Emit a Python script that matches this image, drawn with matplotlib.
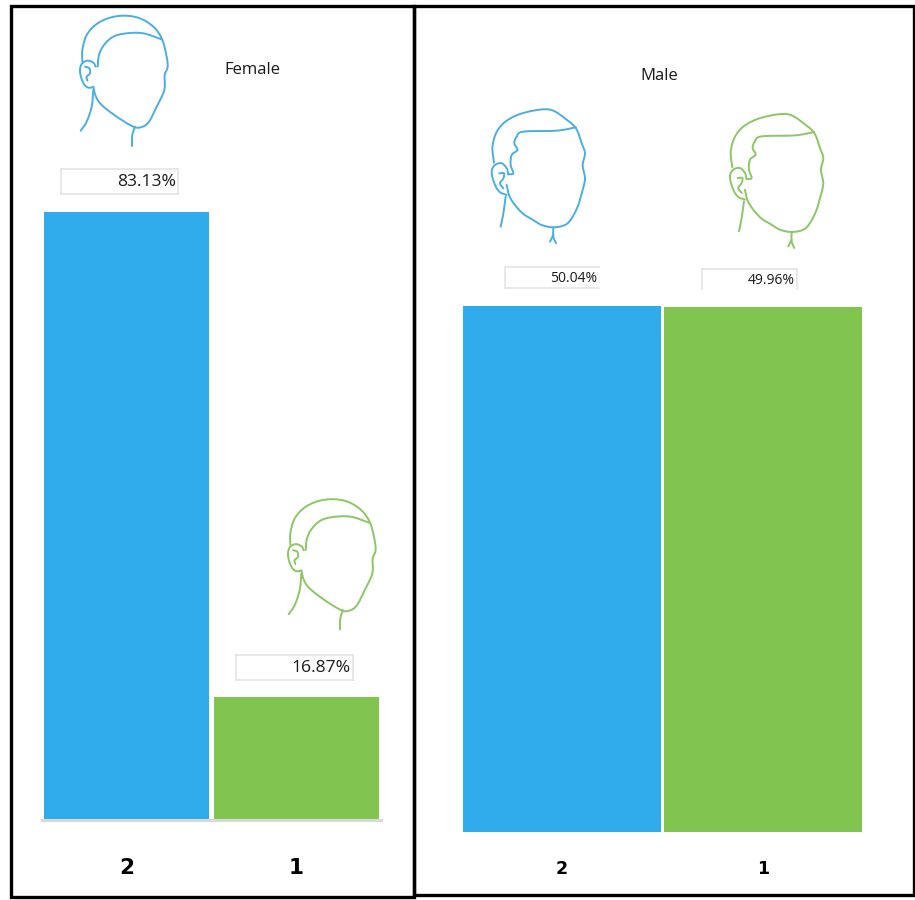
import numpy as np
import matplotlib
matplotlib.use("Agg")
import matplotlib.pyplot as plt
from matplotlib.patches import Rectangle

W, H = 915, 900

# values
categories = ["2", "1"]
female_values = [83.13, 16.87]
male_values = [50.04, 49.96]

BLUE = "#30ABEC"
GREEN = "#82C450"
LINE_BLUE = "#4BAEE0"
LINE_GREEN = "#8CC665"

# head outlines, one list of points per stroke
female_head = [
    [(157, 185), (157, 150), (170, 105), (200, 72), (240, 53), (285, 47), (330, 55), (370, 80),
     (395, 115), (408, 160), (413, 200), (404, 225), (403, 270), (380, 320), (357, 365), (335, 381),
     (310, 380), (260, 350), (215, 315), (197, 288), (190, 260)],
    [(203, 200), (207, 165), (222, 135), (250, 110), (290, 100), (340, 100), (395, 118)],
    [(190, 262), (172, 262), (158, 245), (150, 215), (155, 192), (172, 182), (190, 188), (197, 200)],
    [(165, 200), (178, 205), (180, 220), (170, 230), (172, 242)],
    [(190, 270), (185, 320), (170, 365), (152, 392)],
    [(315, 380), (307, 405), (306, 438)],
]
male_head = [
    [(72, 218), (68, 190), (68, 165), (78, 130), (100, 100), (135, 78), (175, 65), (220, 58),
     (250, 62), (285, 85), (318, 115), (335, 160), (345, 190), (338, 225), (345, 265), (338, 300),
     (325, 345), (305, 385), (285, 405), (250, 412), (215, 405), (190, 390), (160, 372), (135, 345),
     (118, 318), (110, 285)],
    [(318, 112), (260, 122), (160, 125), (140, 140), (133, 160), (142, 180), (125, 195), (122, 225),
     (130, 250), (115, 253)],
    [(110, 315), (88, 305), (73, 280), (65, 245), (75, 225), (95, 220), (110, 235), (115, 253)],
    [(88, 250), (102, 250), (100, 265), (90, 280), (100, 295)],
    [(107, 320), (100, 370), (92, 410)],
    [(250, 412), (250, 440), (258, 460)],
    [(250, 435), (240, 455)],
]


def smooth(points, n=12):
    # catmull-rom through the points
    p = np.array(points, dtype=float)
    if len(p) < 3:
        return p
    p = np.vstack([2 * p[0] - p[1], p, 2 * p[-1] - p[-2]])
    out = []
    for i in range(1, len(p) - 2):
        t = np.linspace(0, 1, n, endpoint=False)[:, None]
        out.append(0.5 * (2 * p[i] + (p[i + 1] - p[i - 1]) * t
                          + (2 * p[i - 1] - 5 * p[i] + 4 * p[i + 1] - p[i + 2]) * t ** 2
                          + (3 * p[i] - p[i - 1] - 3 * p[i + 1] + p[i + 2]) * t ** 3))
    out.append(p[-2][None, :])
    return np.vstack(out)


def px_axes(fig, left, right, top, bottom):
    return fig.add_axes([left / W, 1 - bottom / H, (right - left) / W, (bottom - top) / H])


def draw_head(ax, strokes, x0, y0, color):
    for s in strokes:
        xy = smooth(s) / 3
        ax.plot(xy[:, 0] + x0, xy[:, 1] + y0, color=color, lw=1.4, solid_capstyle="round")


def value_box(ax, left, right, top, bottom, value, size, open_side=None):
    # white label box with a pale border, text pushed to the right
    ax.add_patch(Rectangle((left, top), right - left, bottom - top, fc="white", ec="none"))
    edge = dict(color="#E2E2E2", lw=1.1)
    ax.plot([left, right], [top, top], **edge)
    ax.plot([left, left], [top, bottom], **edge)
    if open_side != "right":
        ax.plot([right, right], [top, bottom], **edge)
    if open_side != "bottom":
        ax.plot([left, right], [bottom, bottom], **edge)
    y = (top + bottom) / 2 + 1
    t = ax.text(right - 2, y, f"{value:.2f}%", ha="right", va="center", fontsize=size,
                color="#1A1A1A", family="Open Sans")
    t.set_clip_path(Rectangle((left, top), right - left, bottom - top, transform=ax.transData))


plt.rcParams["font.family"] = ["Open Sans", "DejaVu Sans"]
fig = plt.figure(figsize=(W / 100, H / 100), dpi=100, facecolor="white")

# female bars
ax1 = px_axes(fig, 41.75, 381, 89, 820)
ax1.bar([0, 1], female_values, width=0.973, color=[BLUE, GREEN])
ax1.set_xlim(-0.5, 1.5)
ax1.set_ylim(0, 100)
ax1.set_yticks([])
ax1.set_xticks([0, 1], categories, family="DejaVu Sans", fontweight="bold", fontsize=15.5)
ax1.tick_params(axis="x", length=0, pad=27)
for s in ["top", "left", "right"]:
    ax1.spines[s].set_visible(False)
ax1.spines["bottom"].set_color("#D9D9D9")
ax1.spines["bottom"].set_linewidth(2.2)
ax1.patch.set_alpha(0)

# male bars
ax2 = px_axes(fig, 461.5, 863.5, 254, 832)
ax2.bar([0, 1], male_values, width=0.985, color=[BLUE, GREEN])
ax2.set_xlim(-0.5, 1.5)
ax2.set_ylim(0, 55)
ax2.set_yticks([])
ax2.set_xticks([0, 1], categories, family="DejaVu Sans", fontweight="bold", fontsize=12.5)
ax2.tick_params(axis="x", length=0, pad=20.5)
for s in ax2.spines.values():
    s.set_visible(False)
ax2.patch.set_alpha(0)

# panel frames, heads and labels on a pixel overlay
ov = fig.add_axes([0, 0, 1, 1], zorder=5)
ov.set_xlim(0, W)
ov.set_ylim(H, 0)
ov.axis("off")

ov.add_patch(Rectangle((10.5, 6), 403.5, 891, fc="none", ec="black", lw=2.4))
ov.add_patch(Rectangle((414, 6), 499.5, 889, fc="none", ec="black", lw=2.4))

draw_head(ov, female_head, 30, 0, LINE_BLUE)
draw_head(ov, female_head, 238, 483.5, LINE_GREEN)
draw_head(ov, male_head, 470, 90, LINE_BLUE)
draw_head(ov, male_head, 708.3, 94.7, LINE_GREEN)

value_box(ov, 61, 178, 168.5, 194, female_values[0], 12.6)
value_box(ov, 236, 353, 655, 680, female_values[1], 12.6)
value_box(ov, 505, 599, 267, 288, male_values[0], 10, open_side="right")
value_box(ov, 701.5, 797, 269, 289, male_values[1], 10, open_side="bottom")

ov.text(252.5, 69.5, "Female", ha="center", va="center", fontsize=12, color="#1A1A1A")
ov.text(659, 76.5, "Male", ha="center", va="center", fontsize=12, color="#1A1A1A")

fig.savefig("out.png", dpi=100)
